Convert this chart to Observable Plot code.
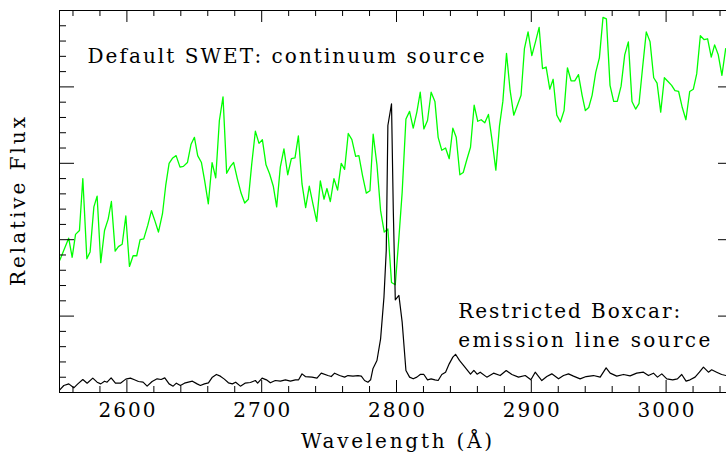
<!DOCTYPE html>
<html><head><meta charset="utf-8">
<script src="https://cdn.jsdelivr.net/npm/d3@7"></script>
<script src="https://cdn.jsdelivr.net/npm/@observablehq/plot@0.6"></script>
<style>
html,body{margin:0;padding:0;background:#fff;overflow:hidden;}
#chart{width:726px;height:460px;overflow:hidden;}
#chart svg{max-width:none !important;}
</style></head><body><div id="chart"></div>
<script>
// Default SWET extraction (continuum source) — green
const swetWave = [2550.2,2556.8,2559.4,2561.9,2564.8,2567.3,2570.3,2572.7,2575.5,2577.9,2580.6,2583.4,2586.1,2588.5,2591.3,2593.7,2596.5,2599.2,2601.9,2604.6,2607.3,2609.8,2612.5,2615.5,2618.2,2620.9,2623.4,2626.4,2628.8,2631.3,2634.0,2636.5,2639.4,2641.9,2644.9,2647.6,2650.1,2652.5,2655.3,2657.7,2660.4,2663.2,2665.9,2668.6,2671.3,2674.0,2676.8,2679.2,2681.9,2684.7,2687.4,2690.1,2692.6,2695.3,2698.0,2700.5,2703.2,2705.9,2708.6,2711.1,2713.8,2716.5,2719.3,2722.0,2724.7,2727.2,2729.9,2732.6,2735.3,2738.0,2740.8,2743.5,2746.2,2748.4,2750.9,2753.6,2756.3,2759.0,2761.5,2764.2,2766.9,2769.7,2772.1,2774.8,2777.6,2780.3,2782.7,2785.5,2788.2,2790.9,2793.6,2796.3,2799.1,2801.8,2804.2,2807.0,2809.7,2812.4,2815.1,2817.6,2820.3,2823.0,2825.7,2828.5,2830.9,2833.6,2836.4,2839.1,2841.8,2844.3,2847.0,2849.5,2852.2,2854.9,2857.6,2860.3,2862.8,2865.5,2868.2,2870.9,2873.7,2876.4,2878.9,2881.6,2884.3,2887.0,2889.7,2892.4,2894.9,2897.6,2900.4,2903.1,2905.8,2908.3,2911.0,2913.7,2916.2,2918.9,2921.6,2924.3,2926.8,2929.5,2932.2,2935.0,2937.7,2940.1,2942.6,2945.1,2947.8,2950.5,2953.2,2955.7,2958.4,2961.1,2963.8,2966.6,2969.3,2972.0,2974.7,2977.4,2979.9,2982.6,2985.3,2988.1,2990.8,2993.3,2996.0,2998.7,3001.4,3004.1,3006.6,3009.3,3012.0,3014.7,3017.5,3020.2,3022.7,3025.4,3028.1,3030.8,3033.5,3036.0,3038.7,3041.4,3044.2];
const swetFlux = [1.73,2.02,1.77,2.07,2.12,2.80,1.75,1.84,2.43,2.57,1.70,2.12,2.27,2.50,1.85,1.91,1.94,2.31,1.65,1.79,1.79,2.00,2.01,2.19,2.38,2.24,2.10,2.34,2.71,3.00,3.07,3.10,2.95,2.96,3.01,3.25,3.34,3.10,3.01,2.77,2.47,3.01,2.81,3.56,3.87,2.87,2.96,3.01,2.80,2.61,2.48,2.53,2.99,3.42,3.26,3.31,2.98,2.86,2.70,2.43,2.95,3.19,2.85,3.06,3.07,3.36,2.73,2.42,2.70,2.47,2.24,2.77,2.53,2.67,2.50,2.80,2.65,3.00,2.92,3.39,3.31,3.09,3.10,2.84,2.61,2.64,3.38,2.98,2.38,2.10,2.14,1.44,1.41,2.03,2.62,3.58,3.68,3.46,3.67,3.93,3.45,3.56,3.93,3.81,3.34,3.17,3.20,3.06,3.46,3.34,2.85,2.88,3.05,3.21,3.76,3.55,3.57,3.53,3.64,3.30,2.91,3.49,3.81,4.44,3.95,3.63,3.76,3.89,4.50,4.72,4.41,4.59,4.78,4.24,4.26,3.97,4.10,3.63,3.54,3.69,4.25,4.08,4.08,4.16,3.89,3.69,3.73,3.89,4.19,4.38,4.91,4.89,4.02,3.81,3.81,4.01,4.42,4.59,3.81,3.71,3.78,4.26,4.72,4.59,4.12,4.05,3.67,4.12,4.07,4.02,3.95,3.94,3.73,3.57,3.94,3.97,4.17,4.67,4.62,4.63,4.39,4.55,4.42,4.15,4.50];

// Restricted Boxcar extraction (emission line source) — black
const boxWave = [2550.2,2553.2,2556.9,2560.6,2563.6,2567.3,2570.5,2574.7,2577.9,2580.6,2583.4,2585.3,2588.3,2591.5,2595.2,2599.2,2602.6,2605.6,2608.6,2612.0,2615.0,2618.7,2622.4,2625.4,2628.1,2631.3,2634.3,2636.7,2639.7,2642.7,2645.6,2648.6,2652.1,2654.5,2657.5,2660.5,2663.4,2666.4,2669.3,2672.3,2675.3,2678.2,2680.7,2684.2,2687.6,2691.6,2695.3,2697.0,2700.3,2703.5,2706.4,2710.1,2713.9,2717.6,2721.3,2725.0,2727.4,2729.9,2732.4,2737.3,2741.0,2744.2,2749.1,2751.6,2754.1,2757.8,2761.5,2764.0,2767.7,2771.4,2773.9,2776.3,2778.8,2780.8,2782.5,2785.5,2788.2,2790.7,2792.4,2793.6,2796.3,2797.6,2799.1,2801.8,2804.2,2807.0,2809.7,2812.4,2815.1,2817.6,2820.3,2823.0,2825.7,2828.5,2830.9,2833.6,2836.4,2839.1,2841.8,2843.8,2846.7,2850.0,2854.9,2857.4,2859.8,2862.1,2867.0,2872.0,2876.9,2881.4,2885.6,2890.5,2895.5,2899.7,2902.9,2907.8,2911.5,2915.2,2920.2,2923.9,2927.6,2931.3,2936.2,2940.7,2946.1,2951.1,2955.5,2958.5,2963.4,2968.4,2973.3,2978.2,2983.2,2986.9,2990.6,2993.6,2996.8,3000.5,3004.9,3008.4,3011.6,3014.8,3017.8,3021.5,3024.7,3027.7,3031.4,3033.8,3037.5,3041.2,3044.5];
const boxFlux = [0.035,0.092,0.113,0.061,0.113,0.170,0.122,0.188,0.135,0.113,0.148,0.135,0.192,0.122,0.122,0.175,0.188,0.166,0.144,0.135,0.083,0.144,0.179,0.170,0.192,0.113,0.083,0.122,0.092,0.122,0.135,0.148,0.113,0.092,0.113,0.127,0.201,0.236,0.214,0.175,0.127,0.113,0.135,0.083,0.122,0.131,0.157,0.122,0.188,0.166,0.127,0.157,0.148,0.166,0.148,0.166,0.166,0.244,0.209,0.201,0.188,0.253,0.222,0.209,0.253,0.222,0.201,0.222,0.214,0.222,0.214,0.157,0.135,0.166,0.310,0.419,0.702,1.248,1.859,3.495,3.778,2.404,1.213,1.270,0.921,0.288,0.201,0.179,0.201,0.236,0.236,0.166,0.179,0.166,0.157,0.236,0.266,0.375,0.463,0.50,0.42,0.35,0.24,0.29,0.24,0.266,0.201,0.253,0.222,0.288,0.236,0.201,0.222,0.166,0.266,0.157,0.209,0.244,0.179,0.222,0.244,0.214,0.179,0.209,0.222,0.201,0.323,0.253,0.214,0.236,0.218,0.253,0.266,0.222,0.253,0.201,0.244,0.179,0.166,0.179,0.236,0.148,0.166,0.201,0.266,0.332,0.266,0.297,0.266,0.236,0.222];

// Axis ticks
const xMajorTicks = [2600, 2700, 2800, 2900, 3000];
const xMinorTicks = [2560,2580,2620,2640,2660,2680,2720,2740,2760,2780,2820,2840,2860,2880,2920,2940,2960,2980,3020,3040];
const yMajorTicks = [1, 2, 3, 4];
const yMinorTicks = [0.2,0.4,0.6,0.8,1.2,1.4,1.6,1.8,2.2,2.4,2.6,2.8,3.2,3.4,3.6,3.8,4.2,4.4,4.6,4.8];

// Annotations (anchored in data units)
const noteLabels = ["Default SWET: continuum source", "Restricted Boxcar:", "emission line source"];
const noteWave = [2570.8, 2845.8, 2845.8];
const noteFlux = [4.31, 0.97, 0.60];

const xTitle = "Wavelength (Å)";
const yTitle = "Relative Flux";

const swet = swetWave.map((w, i) => ({w, f: swetFlux[i]}));
const box = boxWave.map((w, i) => ({w, f: boxFlux[i]}));
const notes = noteLabels.map((label, i) => ({label, w: noteWave[i], f: noteFlux[i]}));

// text widths to mimic the wide-spaced Hershey font
const textWidths = {
  "Default SWET: continuum source": 397,
  "Restricted Boxcar:": 222,
  "emission line source": 252,
  "Wavelength (Å)": 191,
  "Relative Flux": 169,
  "2600": 57, "2700": 57, "2800": 57, "2900": 57, "3000": 57
};

const chart = Plot.plot({
  width: 740, height: 460,
  marginLeft: 59, marginRight: 7, marginTop: 10, marginBottom: 68,
  x: {domain: [2550, 3050], axis: null},
  y: {domain: [0, 5], axis: null},
  style: {fontFamily: "DejaVu Serif", fontSize: "20px", color: "#000", background: "#fff", overflow: "visible"},
  marks: [
    Plot.lineY(swet, {x: "w", y: "f", stroke: "#00ff00", strokeWidth: 1.3}),
    Plot.lineY(box, {x: "w", y: "f", stroke: "#000", strokeWidth: 1.2}),
    Plot.frame({stroke: "#000", strokeWidth: 1}),
    Plot.tickX(xMajorTicks, {insetTop: 370, stroke: "#000"}),
    Plot.tickX(xMajorTicks, {insetBottom: 370, stroke: "#000"}),
    Plot.tickX(xMinorTicks, {insetTop: 376, stroke: "#000"}),
    Plot.tickX(xMinorTicks, {insetBottom: 376, stroke: "#000"}),
    Plot.tickY(yMajorTicks, {insetRight: 659, stroke: "#000"}),
    Plot.tickY(yMajorTicks, {insetLeft: 659, stroke: "#000"}),
    Plot.tickY(yMinorTicks, {insetRight: 667, stroke: "#000"}),
    Plot.tickY(yMinorTicks, {insetLeft: 667, stroke: "#000"}),
    Plot.text(xMajorTicks, {x: d => d, text: d => String(d), frameAnchor: "bottom", lineAnchor: "middle", dy: 18, fill: "#000"}),
    Plot.text([xTitle], {frameAnchor: "bottom", lineAnchor: "middle", textAnchor: "middle", dy: 49, fill: "#000"}),
    Plot.text([yTitle], {frameAnchor: "left", lineAnchor: "middle", textAnchor: "middle", rotate: -90, dx: -41, fill: "#000"}),
    Plot.text(notes, {x: "w", y: "f", text: "label", textAnchor: "start", lineAnchor: "bottom", fill: "#000"})
  ]
});

d3.select(chart).selectAll("text").each(function() {
  this.setAttribute("font-family", "DejaVu Serif");
  this.setAttribute("font-size", "20");
  const t = this.textContent;
  if (textWidths[t]) {
    this.setAttribute("textLength", textWidths[t]);
    this.setAttribute("lengthAdjust", "spacing");
  }
});

document.getElementById("chart").appendChild(chart);
</script>
</body></html>
